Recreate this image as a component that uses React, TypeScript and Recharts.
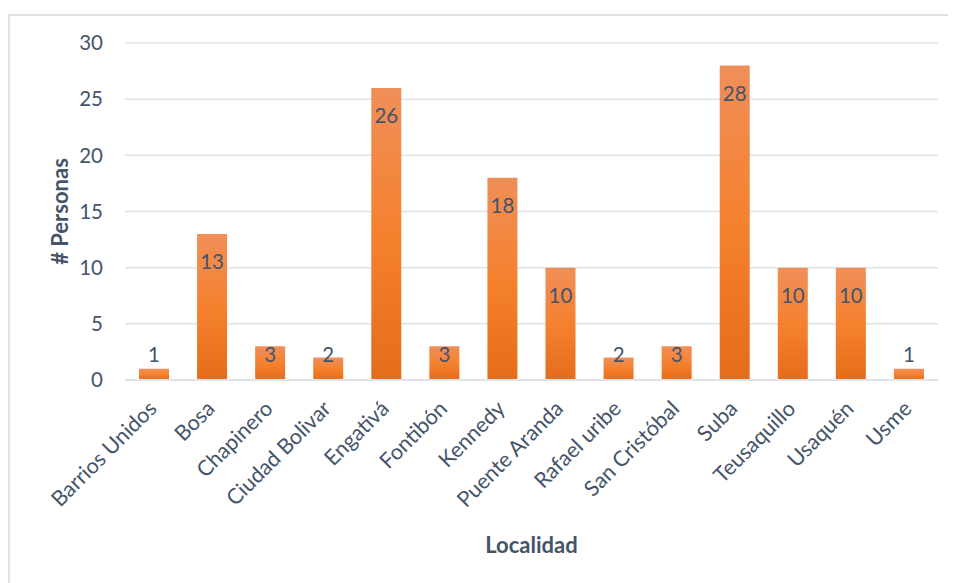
import React from "react";
import { BarChart, Bar, XAxis, YAxis, CartesianGrid, LabelList } from "recharts";

const localidades = [
  "Barrios Unidos",
  "Bosa",
  "Chapinero",
  "Ciudad Bolivar",
  "Engativá",
  "Fontibón",
  "Kennedy",
  "Puente Aranda",
  "Rafael uribe",
  "San Cristóbal",
  "Suba",
  "Teusaquillo",
  "Usaquén",
  "Usme",
];

const personas = [1, 13, 3, 2, 26, 3, 18, 10, 2, 3, 28, 10, 10, 1];

const yTicks = [0, 5, 10, 15, 20, 25, 30];

const data = localidades.map((name, i) => ({ name, value: personas[i] }));

const FONT = "Lato, 'Open Sans', sans-serif";
const TEXT = "#44546a";
const GRID = "#dfe3e8";

function CategoryTick(props: any) {
  const { x, y, payload } = props;
  const ax = x + 4;
  const ay = y + 22;
  return (
    <text
      x={ax}
      y={ay}
      textAnchor="end"
      transform={`rotate(-45 ${ax} ${ay})`}
      fill={TEXT}
      fontSize={21.5}
      fontFamily={FONT}
    >
      {payload.value}
    </text>
  );
}

function ValueLabel(props: any) {
  const { x, y, width, height, value } = props;
  // inside the top of the bar, but never lower than just above the baseline
  const cy = Math.min(y + 28, y + height - 25);
  return (
    <text
      x={x + width / 2}
      y={cy}
      dy="0.35em"
      textAnchor="middle"
      fill={TEXT}
      fontSize={20.5}
      fontFamily={FONT}
    >
      {value}
    </text>
  );
}

export default function App() {
  return (
    <div style={{ position: "relative", width: 948, height: 575, overflow: "hidden", background: "#fff" }}>
      {/* frame: only top and left edges show in the picture */}
      <div
        style={{
          position: "absolute",
          left: 0,
          top: 6,
          width: 1000,
          height: 700,
          borderTop: `2px solid ${GRID}`,
          borderLeft: `2px solid ${GRID}`,
        }}
      />
      <BarChart
        width={948}
        height={575}
        data={data}
        margin={{ top: 35, right: 18, bottom: 0, left: 0 }}
        style={{ position: "absolute", left: 0, top: 0 }}
      >
        <defs>
          <linearGradient id="barFill" x1="0" y1="0" x2="0" y2="1">
            <stop offset="0%" stopColor="#f08f59" />
            <stop offset="50%" stopColor="#f5812f" />
            <stop offset="100%" stopColor="#e56c1b" />
          </linearGradient>
        </defs>

        <CartesianGrid vertical={false} stroke={GRID} strokeWidth={1.5} />

        <XAxis
          dataKey="name"
          interval={0}
          height={203}
          tick={<CategoryTick />}
          tickLine={false}
          axisLine={{ stroke: GRID, strokeWidth: 2 }}
          label={{
            value: "Localidad",
            position: "insideBottom",
            offset: 30,
            fill: TEXT,
            fontSize: 22,
            fontWeight: 700,
            fontFamily: FONT,
          }}
        />

        <YAxis
          width={117}
          domain={[0, 30]}
          ticks={yTicks}
          tickLine={false}
          axisLine={false}
          tickMargin={16}
          tick={{ fill: TEXT, fontSize: 20.5, fontFamily: FONT }}
          label={{
            value: "# Personas",
            angle: -90,
            position: "center",
            dx: -6,
            fill: TEXT,
            fontSize: 22,
            fontWeight: 700,
            fontFamily: FONT,
          }}
        />

        <Bar dataKey="value" fill="url(#barFill)" barSize={30} isAnimationActive={false}>
          <LabelList dataKey="value" content={<ValueLabel />} />
        </Bar>
      </BarChart>
    </div>
  );
}
